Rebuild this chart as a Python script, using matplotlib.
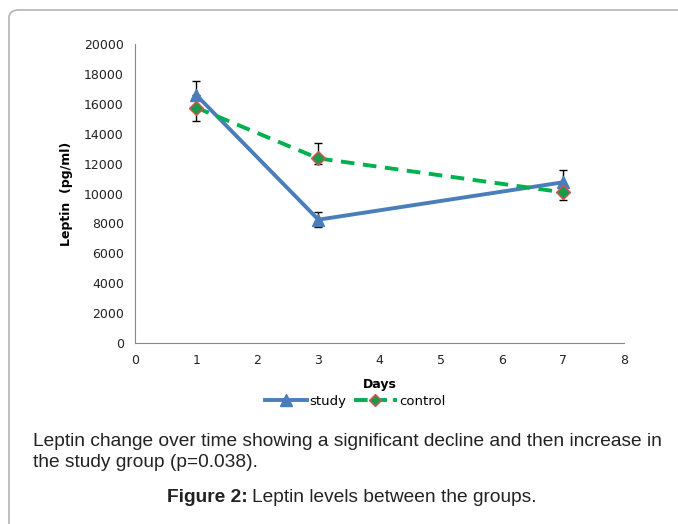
import matplotlib.pyplot as plt
from matplotlib.patches import FancyBboxPatch
from matplotlib.lines import Line2D

days = [1, 3, 7]
study = [16600, 8250, 10750]
study_lo = [900, 480, 800]
study_hi = [950, 500, 800]
control = [15750, 12350, 10080]
control_lo = [870, 380, 520]
control_hi = [850, 1050, 500]

fig = plt.figure(figsize=(6.78, 5.24), dpi=100)

# rounded frame around the figure panel
frame = FancyBboxPatch((9 / 678, -0.1), 1.2, 1.081, boxstyle="round,pad=0,rounding_size=0.015",
                       transform=fig.transFigure, facecolor='none', edgecolor='#b4b4b4', lw=1.2)
fig.patches.append(frame)

blue = '#4a7ebb'
green = '#00b050'

ax = fig.add_axes([0.1991, 0.3454, 0.7213, 0.5706])
ax.errorbar(days, study, yerr=[study_lo, study_hi], color=blue, lw=2.8, marker='^', markersize=9,
            ecolor='black', elinewidth=1, capsize=3, capthick=1, zorder=3)
ax.errorbar(days, control, yerr=[control_lo, control_hi], color=green, lw=2.8, ls=(0, (3.5, 2.2)),
            marker='D', markersize=7, markerfacecolor='#1a9a4a', markeredgecolor='#e05050',
            markeredgewidth=1, ecolor='black', elinewidth=1, capsize=3, capthick=1, zorder=3)

ax.set_xlim(0, 8)
ax.set_ylim(0, 20000)
ax.set_xticks(range(0, 9))
ax.set_yticks(range(0, 20001, 2000))
ax.tick_params(length=0, labelsize=9, pad=8, labelcolor='#222222')
for s in ['top', 'right']:
    ax.spines[s].set_visible(False)
for s in ['left', 'bottom']:
    ax.spines[s].set_color('#888888')
ax.set_xlabel('Days', fontsize=9, fontweight='bold', labelpad=8)
ax.set_ylabel('Leptin  (pg/ml)', fontsize=9, fontweight='bold', labelpad=8)

handles = [Line2D([], [], color=blue, lw=2.8, marker='^', markersize=8),
           Line2D([], [], color=green, lw=2.8, ls=(0, (3.5, 1.5)), marker='D', markersize=6,
                  markerfacecolor='#1a9a4a', markeredgecolor='#e05050')]
ax.legend(handles, ['study', 'control'], loc='center', bbox_to_anchor=(0.45, -0.195), ncol=2,
          frameon=False, fontsize=9.5, handlelength=3.2, columnspacing=0.6, handletextpad=0.2)

fig.text(33 / 678, 1 - 452 / 524, 'Leptin change over time showing a significant decline and then increase in\nthe study group (p=0.038).',
         fontsize=13.8, family='Liberation Sans', va='center', linespacing=1.25, color='#222222')

# caption title: bold part followed by regular part
t1 = fig.text(167 / 678, 1 - 497 / 524, 'Figure 2:', fontsize=13.8, family='Liberation Sans',
              fontweight='bold', va='center', color='#222222')
fig.canvas.draw()
bb = t1.get_window_extent()
fig.text((bb.x1 + 4) / 678, 1 - 497 / 524, 'Leptin levels between the groups.', fontsize=13.8,
         family='Liberation Sans', va='center', color='#222222')

fig.savefig('out.png', dpi=100)
